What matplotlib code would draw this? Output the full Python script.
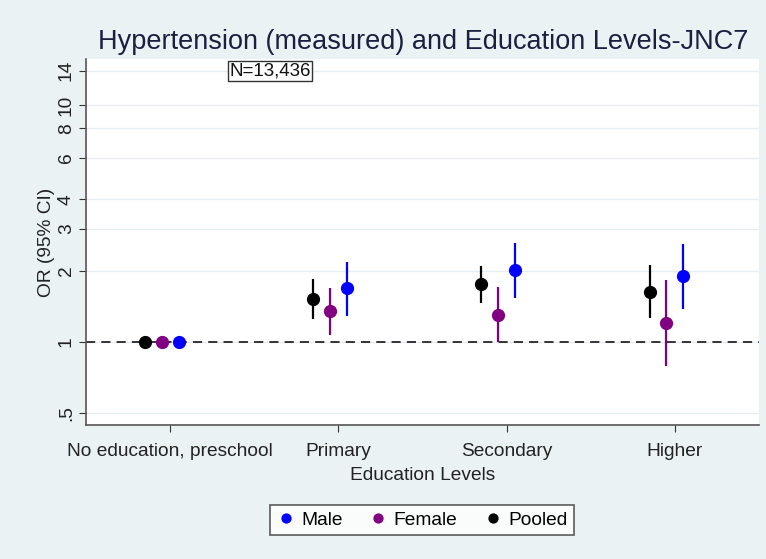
import matplotlib.pyplot as plt
import numpy as np
from matplotlib.ticker import FixedLocator, NullLocator

plt.rcParams["font.family"] = ["Liberation Sans", "DejaVu Sans"]

categories = ["No education, preschool", "Primary", "Secondary", "Higher"]
series = ["Pooled", "Female", "Male"]
colors = {"Male": "#0000ff", "Female": "#800080", "Pooled": "#000000"}
offsets = {"Pooled": -0.15, "Female": -0.05, "Male": 0.05}

# odds ratios and 95% CI, reference category first
or_pooled = [1.0, 1.52, 1.76, 1.63]
lo_pooled = [np.nan, 1.25, 1.46, 1.26]
hi_pooled = [np.nan, 1.84, 2.09, 2.12]

or_female = [1.0, 1.35, 1.30, 1.20]
lo_female = [np.nan, 1.07, 1.00, 0.79]
hi_female = [np.nan, 1.69, 1.70, 1.82]

or_male = [1.0, 1.68, 2.01, 1.89]
lo_male = [np.nan, 1.29, 1.53, 1.37]
hi_male = [np.nan, 2.18, 2.62, 2.60]

data = {
    "Pooled": (or_pooled, lo_pooled, hi_pooled),
    "Female": (or_female, lo_female, hi_female),
    "Male": (or_male, lo_male, hi_male),
}

y_ticks = [0.5, 1, 2, 3, 4, 6, 8, 10, 14]
y_tick_labels = [".5", "1", "2", "3", "4", "6", "8", "10", "14"]

bg = "#eaf2f3"
fig = plt.figure(figsize=(7.66, 5.59), dpi=100, facecolor=bg)
ax = fig.add_axes([86 / 766, 1 - 425 / 559, (759 - 86) / 766, (425 - 59) / 559])
ax.set_facecolor("white")

ax.set_yscale("log")
ax.set_ylim(0.444, 15.7)
ax.set_xlim(0.5, 4.5)

x = np.arange(1, len(categories) + 1)
handles = {}
for name in series:
    vals, lo, hi = data[name]
    xs = x + offsets[name]
    ax.vlines(xs, lo, hi, color=colors[name], lw=1.6, zorder=3)
    h, = ax.plot(xs, vals, "o", color=colors[name], ms=8.5, zorder=4, label=name)
    handles[name] = h

ax.axhline(1, color="black", ls=(0, (6, 4)), lw=1.1, zorder=2)

ax.yaxis.set_major_locator(FixedLocator(y_ticks))
ax.yaxis.set_minor_locator(NullLocator())
ax.set_yticklabels(y_tick_labels, rotation=90, va="center")
ax.set_xticks(x)
ax.set_xticklabels(categories)
ax.tick_params(axis="both", labelsize=13.8, color="#333333", length=5, colors="#222222")
ax.tick_params(axis="y", pad=3)
ax.tick_params(axis="x", pad=8)
ax.grid(axis="y", color="#e4eef3", lw=1)
ax.set_axisbelow(True)

for side in ["top", "right"]:
    ax.spines[side].set_visible(False)
for side in ["left", "bottom"]:
    ax.spines[side].set_color("#555555")
    ax.spines[side].set_linewidth(1.2)

ax.set_ylabel("OR (95% CI)", fontsize=13.8, color="#222222", labelpad=2)
ax.set_xlabel("Education Levels", fontsize=13.8, color="#222222", labelpad=5)
fig.text(423 / 766, 1 - 42 / 559, "Hypertension (measured) and Education Levels-JNC7",
         ha="center", va="center", fontsize=19.5, color="#1a2040")

ax.text(270 / 766, 1 - 71 / 559, "N=13,436", transform=fig.transFigure,
        ha="center", va="center", fontsize=13.5, color="#111111",
        bbox=dict(boxstyle="square,pad=0.08", fc="white", ec="#333333", lw=1))

leg = fig.legend([handles["Male"], handles["Female"], handles["Pooled"]],
                 ["Male", "Female", "Pooled"], loc="center",
                 bbox_to_anchor=(422 / 766, 1 - 520 / 559), ncol=3,
                 fontsize=13.8, frameon=True, fancybox=False, markerscale=0.75,
                 handletextpad=0.3, columnspacing=1.35, handlelength=1.0,
                 borderpad=0.35)
leg.get_frame().set_edgecolor("#333333")
leg.get_frame().set_linewidth(1.2)

fig.savefig("out.png", dpi=100, facecolor=bg)
